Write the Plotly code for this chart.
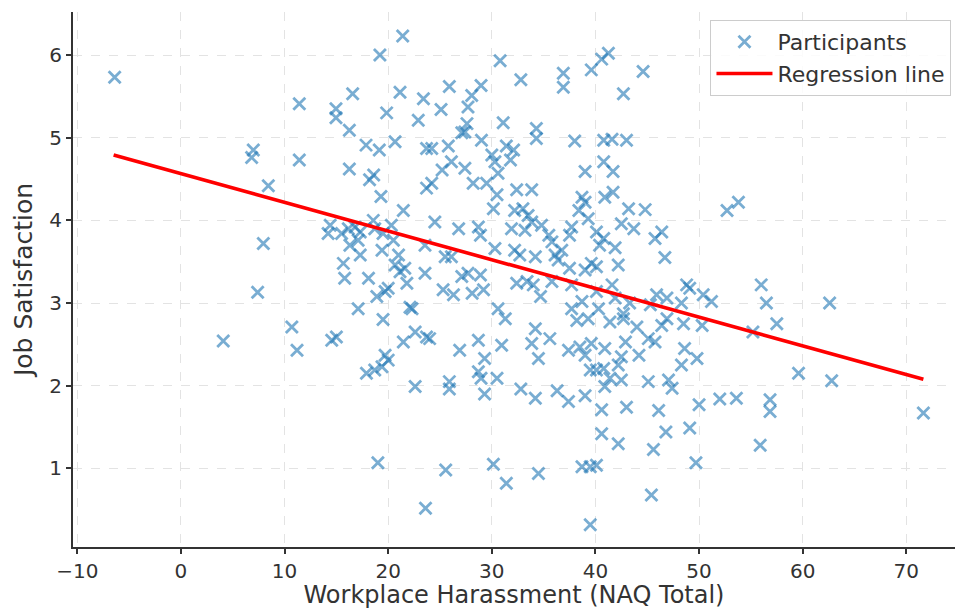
import numpy as np
import plotly.graph_objects as go

# Participant data (NAQ total, job satisfaction)
naq = [
    -6.4, 6.98, 6.82, 8.43, 7.95, 7.4, 4.08, 11.42, 11.42, 14.96, 14.96, 16.25, 16.57, 16.25,
    17.86, 19.14, 19.2, 21.4, 19.85, 20.66, 21.14, 22.9, 23.4, 23.7, 23.7, 18.6, 18.2, 19.3,
    21.46, 14.4, 14.2, 15.5, 16.15, 16.8, 17.3, 16.3, 17.1, 17.3, 18.56, 18.7, 19.5, 20.3,
    20.5, 19.4, 21.0, 20.66, 21.14, 21.6, 23.55, 23.55, 15.67, 15.8, 18.1, 19.7, 20.0, 18.9,
    21.8, 22.1, 22.3, 17.1, 19.5, 10.7, 11.2, 14.55, 15.0, 21.46, 22.6, 23.7, 19.7, 20.0,
    19.4, 17.9, 18.7, 22.6, 19.0, 23.6,
    30.8, 32.8, 36.9, 36.9, 39.6, 25.9, 28.96, 25.1, 28.06, 27.7, 27.6, 27.4, 27.1, 31.1,
    34.3, 34.3, 38.0, 24.2, 25.8, 29.0, 31.4, 32.1, 30.0, 30.3, 31.8, 26.1, 25.2, 27.4,
    24.2, 30.6, 28.2, 29.5, 39.0, 30.5, 32.4, 33.85, 38.7,
    24.5, 26.8, 28.7, 28.9, 30.15, 32.2, 33.0, 33.5, 33.85, 34.8, 31.9, 33.2, 35.5, 35.8,
    37.7, 37.5, 38.4, 39.0, 39.3, 30.3, 32.2, 32.7, 34.2, 36.1, 36.75, 36.4, 37.5, 39.0,
    39.6, 25.5, 26.1, 27.1, 27.7, 28.9, 25.3, 26.3, 28.1, 29.2, 32.4, 33.4, 34.0, 34.7,
    35.8, 37.7, 38.7, 37.7, 38.2, 39.3, 30.6, 31.3, 24.0, 26.9, 28.7, 29.3, 30.95, 34.2,
    33.85, 35.6, 34.5, 37.4, 38.5, 39.0, 39.6, 28.7, 39.5,
    25.9, 25.9, 28.96, 30.5, 29.3, 32.8, 34.2, 36.3, 37.4, 39.0, 25.55, 30.15, 31.4, 34.5,
    38.7, 39.5, 39.5,
    41.25, 40.6, 44.6, 42.7, 40.8, 41.6, 43.0, 40.8, 41.7, 41.7, 40.9,
    43.2, 44.8, 42.5, 43.7, 46.4, 45.75, 40.1, 40.8, 40.4, 41.9, 46.7, 40.1, 42.2, 52.7,
    53.8, 41.6, 40.1, 48.8, 49.1, 50.4, 51.2, 56.0, 45.9, 46.9, 48.3, 45.3, 41.9, 43.3,
    40.3, 42.7, 41.4, 42.7, 44.0, 46.9, 46.4, 48.5, 50.3, 55.2, 42.9, 45.1, 45.75, 40.9,
    44.2, 42.5, 48.6, 49.8, 48.3, 42.2, 40.8,
    40.1, 40.9, 41.4, 42.5, 45.1, 47.05, 47.4, 40.6, 43.0, 46.1, 50.0, 52.0, 53.6, 40.6,
    42.2, 46.8, 49.1, 45.6, 40.1, 49.7, 45.4, 55.9,
    56.5, 62.6, 57.5, 59.6, 62.8, 56.85, 56.85, 71.65,
]
satisfaction = [
    5.73, 4.85, 4.76, 4.42, 3.72, 3.13, 2.54, 5.41, 4.73, 5.35, 5.24, 5.09, 5.53, 4.62,
    4.91, 4.85, 6.0, 6.23, 5.30, 4.95, 5.55, 5.21, 5.47, 4.87, 4.39, 4.55, 4.49, 4.29,
    4.12, 3.94, 3.84, 3.84, 3.90, 3.92, 3.86, 3.70, 3.76, 3.58, 4.0, 3.90, 3.84, 3.94,
    3.76, 3.64, 3.58, 3.46, 3.38, 3.42, 3.70, 3.36, 3.48, 3.30, 3.30, 3.14, 3.18, 3.08,
    3.24, 2.95, 2.93, 2.93, 2.80, 2.71, 2.43, 2.55, 2.59, 2.53, 2.65, 2.59, 2.37, 2.31,
    2.23, 2.15, 2.19, 1.99, 1.07, 0.52,
    5.93, 5.70, 5.78, 5.61, 5.82, 5.62, 5.63, 5.34, 5.51, 5.37, 5.17, 5.07, 5.06, 5.18,
    5.11, 4.99, 4.96, 4.87, 4.90, 4.97, 4.90, 4.85, 4.79, 4.71, 4.73, 4.71, 4.61, 4.63,
    4.45, 4.57, 4.45, 4.45, 4.59, 4.31, 4.37, 4.37, 4.28,
    3.98, 3.90, 3.92, 3.82, 4.14, 4.12, 4.14, 4.06, 3.98, 3.94, 3.90, 3.88, 3.82, 3.74,
    3.92, 3.82, 4.12, 4.22, 4.02, 3.66, 3.64, 3.58, 3.56, 3.58, 3.64, 3.52, 3.42, 3.40,
    3.48, 3.56, 3.56, 3.32, 3.36, 3.34, 3.16, 3.10, 3.12, 3.16, 3.24, 3.26, 3.22, 3.08,
    3.26, 3.22, 3.02, 2.93, 2.79, 2.81, 2.93, 2.81, 2.57, 2.43, 2.55, 2.33, 2.49, 2.69,
    2.51, 2.57, 2.33, 2.43, 2.47, 2.37, 2.51, 2.17, 2.19,
    2.05, 1.96, 2.09, 2.09, 1.90, 1.96, 1.85, 1.94, 1.81, 1.88, 0.98, 1.05, 0.82, 0.94,
    1.02, 1.02, 0.32,
    6.02, 5.95, 5.80, 5.53, 4.97, 4.98, 4.97, 4.71, 4.59, 4.34, 4.28,
    4.14, 4.13, 3.96, 3.90, 3.86, 3.78, 3.86, 3.78, 3.70, 3.67, 3.55, 3.44, 3.46, 4.12,
    4.22, 3.22, 3.14, 3.22, 3.18, 3.10, 3.02, 3.22, 3.10, 3.06, 3.0, 2.98, 3.06, 3.0,
    2.93, 2.87, 2.77, 2.81, 2.71, 2.81, 2.73, 2.75, 2.73, 2.65, 2.53, 2.57, 2.53, 2.45,
    2.37, 2.35, 2.45, 2.33, 2.25, 2.25, 2.21,
    2.19, 1.99, 2.09, 2.07, 2.05, 2.07, 1.97, 1.71, 1.74, 1.70, 1.77, 1.84, 1.85, 1.42,
    1.30, 1.44, 1.49, 1.23, 1.04, 1.07, 0.68, 1.28,
    3.0, 3.0, 2.75, 2.15, 2.06, 1.83, 1.69, 1.67,
]

# Regression line coefficients
reg_intercept = 4.565
reg_slope = -0.0347

x_ticks = [-10, 0, 10, 20, 30, 40, 50, 60, 70]
y_ticks = [1, 2, 3, 4, 5, 6]

x_arr = np.array(naq)
line_x = np.array([x_arr.min() - 0.1, x_arr.max()])
line_y = reg_intercept + reg_slope * line_x

FONT = "DejaVu Sans"
TXT = "#333333"

fig = go.Figure()
fig.add_trace(go.Scatter(
    x=naq, y=satisfaction, mode="markers", name="Participants",
    marker=dict(symbol="x-thin", size=12, color="rgba(31,119,180,0.6)",
                line=dict(width=2.8, color="rgba(31,119,180,0.6)")),
))
fig.add_trace(go.Scatter(
    x=line_x, y=line_y, mode="lines", name="Regression line",
    line=dict(color="#ff0000", width=3.6),
))

axis_common = dict(
    showline=True, linecolor="#333333", linewidth=2,
    ticks="outside", ticklen=5, tickwidth=1.5, tickcolor="#333333",
    showgrid=True, gridcolor="#e3e3e3", griddash="dash", gridwidth=1,
    zeroline=False, mirror=False, automargin=False,
    tickfont=dict(family=FONT, size=20, color=TXT),
)

fig.update_layout(
    width=956, height=609,
    margin=dict(l=73, r=1, t=12, b=62),
    plot_bgcolor="white", paper_bgcolor="white",
    font=dict(family=FONT, color=TXT),
    xaxis=dict(range=[-10.42, 74.7], tickvals=x_ticks,
               title=dict(text="Workplace Harassment (NAQ Total)",
                          font=dict(family=FONT, size=24, color=TXT), standoff=5),
               **axis_common),
    yaxis=dict(range=[0.05, 6.52], tickvals=y_ticks,
               title=dict(text="Job Satisfaction",
                          font=dict(family=FONT, size=25, color=TXT), standoff=10),
               **axis_common),
    legend=dict(x=0.996, y=0.985, xanchor="right", yanchor="top",
                bgcolor="rgba(255,255,255,0.85)", bordercolor="#cccccc", borderwidth=1,
                font=dict(family=FONT, size=22, color=TXT),
                itemwidth=56, tracegroupgap=2),
    showlegend=True,
)

fig.write_html("out.html", post_script="document.body.style.margin='0';",
               config={"displayModeBar": False})
